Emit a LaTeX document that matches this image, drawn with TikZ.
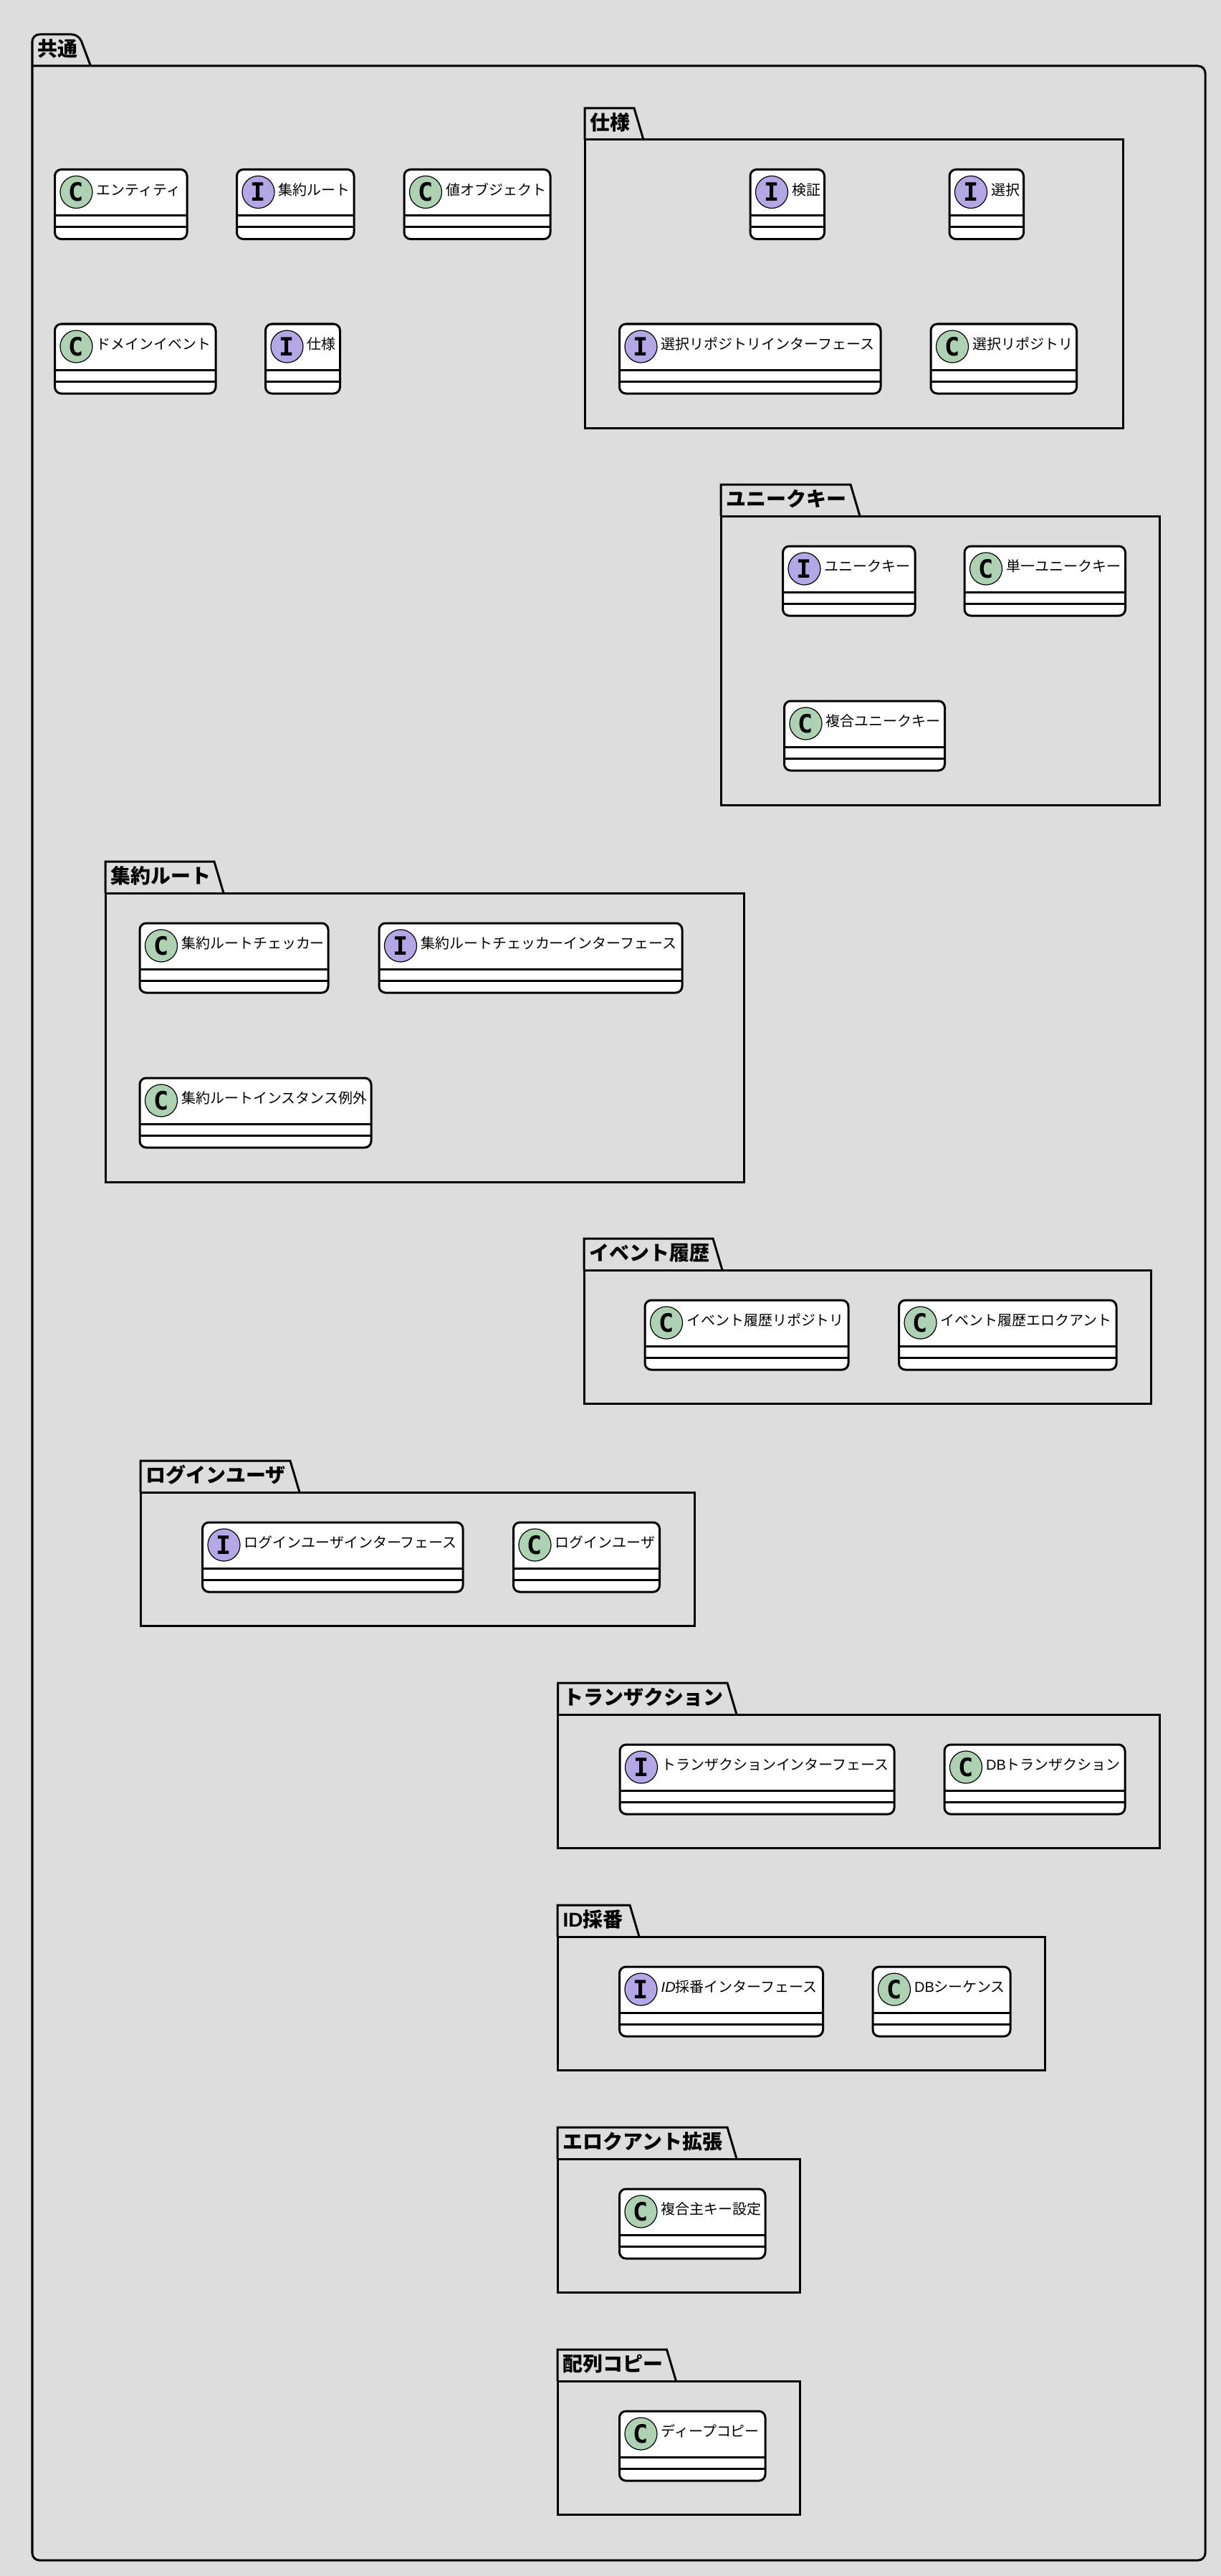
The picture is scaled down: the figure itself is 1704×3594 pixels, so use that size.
\documentclass[tikz,border=0pt]{standalone}
\usepackage{fontspec}
\setmainfont{Noto Sans CJK JP}
\newfontfamily\latinfont{Liberation Sans}
\newfontfamily\spotfont{DejaVu Sans Mono}
\usetikzlibrary{calc}
\definecolor{bggray}{HTML}{DDDDDD}
\definecolor{cspot}{HTML}{ADD1B2}
\definecolor{ispot}{HTML}{B4A7E5}
% name, spot letter, left, top, width, label
\newcommand{\classbox}[6]{
	\node[classbody, minimum width=#5*0.01cm] (#1) at (#3,#4) {};
	\draw[pkgline] ([yshift=-0.64cm]#1.north west) -- ([yshift=-0.64cm]#1.north east);
	\draw[pkgline] ([yshift=-0.80cm]#1.north west) -- ([yshift=-0.80cm]#1.north east);
	\node[spot#2] (#1s) at ([shift={(30,31.5)}]#1.north west) {#2};
	\node[classlabel] (#1t) at ([shift={(57.5,29.5)}]#1.north west) {#6};
}
% name, left, body top, width, height, tab width, title
\newcommand{\pkgbox}[7]{
	\node[pkgbody, minimum width=#4*0.01cm, minimum height=#5*0.01cm] (#1) at (#2,#3) {};
	\draw[pkgline] (#1.north west) -- ++(0,-44) -- ++(#6,0) -- ++(13,44);
	\node[pkgtitle] (#1t) at ([shift={(7,-23)}]#1.north west) {#7};
}
\begin{document}
\begin{tikzpicture}[x=0.01cm, y=-0.01cm]
	\tikzset{pkgline/.style={draw, line width=0.03cm, line join=miter}}
	\tikzset{pkgbody/.style={pkgline, rectangle, anchor=north west, inner sep=0pt, outer sep=0pt}}
	\tikzset{pkgtitle/.style={anchor=west, inner sep=0pt, font=\fontsize{7.95pt}{9pt}\selectfont\bfseries, text height=6.2pt, text depth=1pt}}
	\tikzset{classbody/.style={pkgline, fill=white, rectangle, rounded corners=0.09cm, anchor=north west, minimum height=0.97cm, inner sep=0pt, outer sep=0pt}}
	\tikzset{classlabel/.style={anchor=west, inner sep=0pt, font=\fontsize{5.68pt}{7pt}\selectfont, text height=4.5pt, text depth=1pt}}
	\tikzset{spot/.style={draw, circle, line width=0.012cm, minimum size=0.45cm, inner sep=0pt, font=\fontsize{10pt}{10pt}\spotfont\bfseries}}
	\tikzset{spotC/.style={spot, fill=cspot}}
	\tikzset{spotI/.style={spot, fill=ispot}}
	\fill[bggray] (0,0) rectangle (1704,3594);
	\useasboundingbox (0,0) rectangle (1704,3594);
	% outer package
	\draw[pkgline, rounded corners=0.1cm] (45,92) -- (1682,92) -- (1682,3572) -- (45,3572) -- (45,48) -- (110,48) -- (126.5,92);
	\node[pkgtitle] (commont) at (52,69) {共通};
	\classbox{entity}{C}{76.5}{236.5}{184.5}{エンティティ}
	\classbox{aggroot}{I}{330.5}{236.5}{163.5}{集約ルート}
	\classbox{valueobj}{C}{564}{236.5}{204}{値オブジェクト}
	\classbox{domevent}{C}{76.5}{452}{224.5}{ドメインイベント}
	\classbox{spec}{I}{370.5}{452}{104}{仕様}
	% packages
	\pkgbox{pspec}{816}{195}{751}{402}{69}{仕様}
	\classbox{validate}{I}{1047}{236.5}{103.5}{検証}
	\classbox{select}{I}{1325}{236.5}{103.5}{選択}
	\classbox{selrepoif}{I}{864.5}{452}{364.5}{選択リポジトリインターフェース}
	\classbox{selrepo}{C}{1299}{452}{203.5}{選択リポジトリ}
	\pkgbox{punique}{1006}{720}{612.5}{403}{181}{ユニークキー}
	\classbox{uniquekey}{I}{1092.5}{762}{184.5}{ユニークキー}
	\classbox{singlekey}{C}{1346}{762}{224.5}{単一ユニークキー}
	\classbox{compkey}{C}{1094.5}{978}{224}{複合ユニークキー}
	\pkgbox{paggr}{147}{1246}{891.5}{403}{152}{集約ルート}
	\classbox{checker}{C}{195}{1288}{263}{集約ルートチェッカー}
	\classbox{checkerif}{I}{529}{1288}{423}{集約ルートチェッカーインターフェース}
	\classbox{instexc}{C}{195}{1504}{323}{集約ルートインスタンス例外}
	\pkgbox{pevent}{815}{1772}{791}{186}{180}{イベント履歴}
	\classbox{evrepo}{C}{900}{1814}{284}{イベント履歴リポジトリ}
	\classbox{evelo}{C}{1254.5}{1814}{303.5}{イベント履歴エロクアント}
	\pkgbox{plogin}{196}{2082}{773}{186}{209}{ログインユーザ}
	\classbox{loginif}{I}{282.5}{2124}{363.5}{ログインユーザインターフェース}
	\classbox{login}{C}{716.5}{2124}{204}{ログインユーザ}
	\pkgbox{ptx}{778.5}{2392}{840}{186}{236.5}{トランザクション}
	\classbox{txif}{I}{865}{2434}{383}{トランザクションインターフェース}
	\classbox{dbtx}{C}{1318}{2434}{252}{{\latinfont DB}トランザクション}
	\pkgbox{pidgen}{778}{2702}{680.5}{186}{101}{{\latinfont ID}採番}
	\classbox{idif}{I}{864.5}{2744}{284}{{\latinfont\itshape ID}採番インターフェース}
	\classbox{dbseq}{C}{1218}{2744}{192}{{\latinfont DB}シーケンス}
	\pkgbox{pelo}{778}{3012}{338.5}{186}{237}{エロクアント拡張}
	\classbox{compkeyset}{C}{864.5}{3054}{203.5}{複合主キー設定}
	\pkgbox{pcopy}{778}{3322}{338.5}{186}{152.5}{配列コピー}
	\classbox{deepcopy}{C}{864.5}{3364}{203.5}{ディープコピー}
\end{tikzpicture}
\end{document}
